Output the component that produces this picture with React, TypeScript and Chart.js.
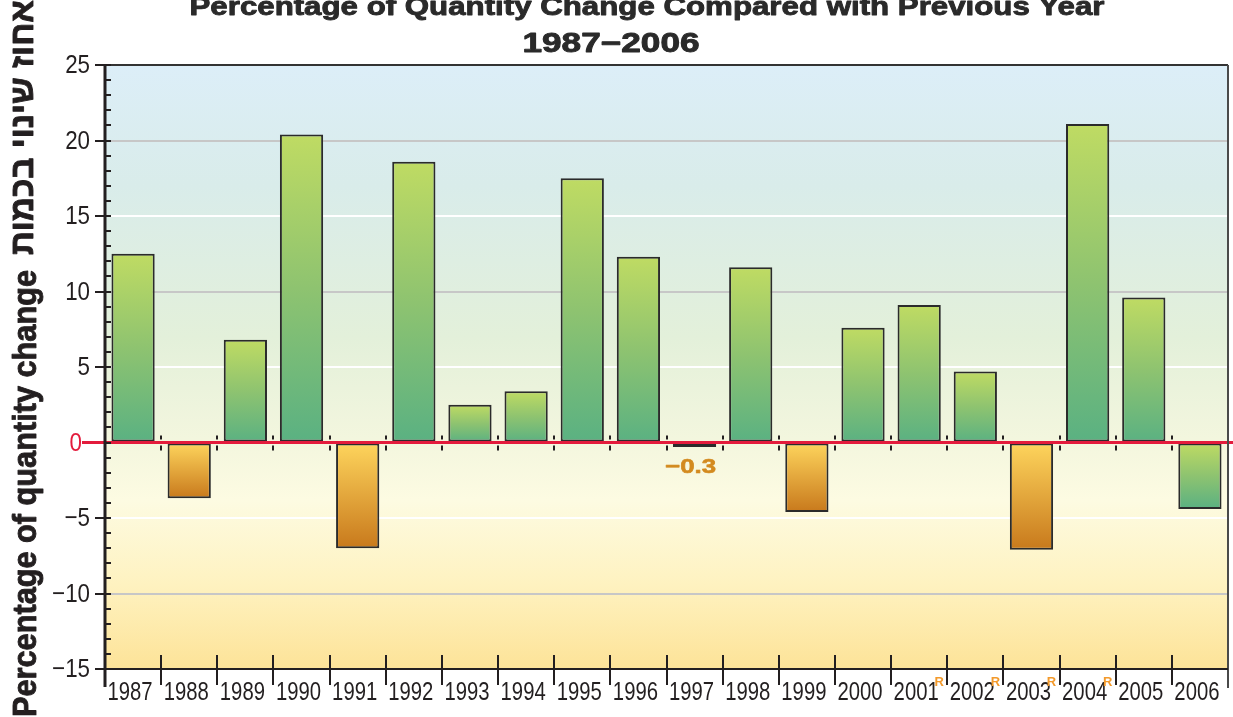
import React, { useEffect, useRef } from "react";
import { Chart, registerables } from "chart.js";

Chart.register(...registerables);

// ---------- data ----------
const years = [
  "1987", "1988", "1989", "1990", "1991", "1992", "1993", "1994", "1995", "1996",
  "1997", "1998", "1999", "2000", "2001", "2002", "2003", "2004", "2005", "2006",
];
const changePct = [
  12.5, -3.7, 6.8, 20.4, -7.0, 18.6, 2.5, 3.4, 17.5, 12.3,
  -0.3, 11.6, -4.6, 7.6, 9.1, 4.7, -7.1, 21.1, 9.6, -4.4,
];
const yTickValues = [25, 20, 15, 10, 5, 0, -5, -10, -15];
const yTickLabels = ["25", "20", "15", "10", "5", "0", "\u22125", "\u221210", "\u221215"];
const revisedYears = ["2001", "2002", "2003", "2004"];
const preliminaryYears = ["2006"];
const annotatedYears = ["1997"];
const titleLine1 = "Percentage of Quantity Change Compared with Previous Year";
const titleLine2 = "1987\u22122006";
const yTitleEn = "Percentage of quantity change";
const yTitleHe = "אחוז שינוי בכמות";

const fmt = (v: number) => (v < 0 ? "\u2212" + Math.abs(v).toFixed(1) : v.toFixed(1));

function drawStretched(
  ctx: CanvasRenderingContext2D,
  text: string,
  x: number,
  y: number,
  targetWidth: number,
  font: string,
  align: CanvasTextAlign,
  color: string,
  strokeW = 0
) {
  ctx.save();
  ctx.font = font;
  ctx.fillStyle = color;
  ctx.strokeStyle = color;
  ctx.textBaseline = "alphabetic";
  const w = ctx.measureText(text).width;
  const s = w > 0 ? targetWidth / w : 1;
  ctx.translate(x, y);
  ctx.scale(s, 1);
  ctx.textAlign = align;
  ctx.fillText(text, 0, 0);
  if (strokeW > 0) {
    ctx.lineWidth = strokeW;
    ctx.lineJoin = "round";
    ctx.strokeText(text, 0, 0);
  }
  ctx.restore();
}

function drawScaled(
  ctx: CanvasRenderingContext2D,
  text: string,
  x: number,
  y: number,
  sx: number,
  font: string,
  align: CanvasTextAlign,
  color: string,
  baseline: CanvasTextBaseline = "alphabetic"
) {
  ctx.save();
  ctx.font = font;
  ctx.fillStyle = color;
  ctx.textBaseline = baseline;
  ctx.textAlign = align;
  ctx.translate(x, y);
  ctx.scale(sx, 1);
  ctx.fillText(text, 0, 0);
  ctx.restore();
}

const INK = "#231f20";
const RED = "#e31b3c";
const ORANGE_TXT = "#d38a1f";

const decorPlugin = {
  id: "decor",
  beforeDraw(chart: any) {
    const { ctx, chartArea: a } = chart;
    ctx.save();
    const g = ctx.createLinearGradient(0, a.top, 0, a.bottom);
    g.addColorStop(0, "#dceef8");
    g.addColorStop(0.2, "#d9ecea");
    g.addColorStop(0.45, "#e3f0da");
    g.addColorStop(0.62, "#f3f6de");
    g.addColorStop(0.72, "#fdfbe2");
    g.addColorStop(0.86, "#fef2c0");
    g.addColorStop(1, "#fde398");
    ctx.fillStyle = g;
    ctx.fillRect(a.left, a.top, a.right - a.left, a.bottom - a.top);
    ctx.restore();
  },
  afterDatasetsDraw(chart: any) {
    const { ctx, chartArea: a } = chart;
    const xs = chart.scales.x;
    const ys = chart.scales.y;
    const y0 = ys.getPixelForValue(0);
    const n = years.length;
    const half = (xs.getPixelForValue(1) - xs.getPixelForValue(0)) / 2;

    ctx.save();
    // small ticks at zero line on category boundaries
    ctx.strokeStyle = INK;
    ctx.lineWidth = 2;
    for (let i = 1; i < n; i++) {
      const bx = Math.round(xs.getPixelForValue(i) - half);
      ctx.beginPath();
      ctx.moveTo(bx, y0 - 7);
      ctx.lineTo(bx, y0 - 3);
      ctx.moveTo(bx, y0 + 3);
      ctx.lineTo(bx, y0 + 8);
      ctx.stroke();
    }
    // zero line
    ctx.strokeStyle = RED;
    ctx.lineWidth = 3;
    ctx.beginPath();
    ctx.moveTo(82, y0);
    ctx.lineTo(chart.width, y0);
    ctx.stroke();

    // top border
    ctx.strokeStyle = "#333";
    ctx.lineWidth = 2;
    ctx.beginPath();
    ctx.moveTo(95, a.top);
    ctx.lineTo(a.right, a.top);
    ctx.stroke();
    // right border
    ctx.strokeStyle = "#4a4a4a";
    ctx.beginPath();
    ctx.moveTo(a.right, a.top);
    ctx.lineTo(a.right, a.bottom + 19);
    ctx.stroke();
    // bottom axis line
    ctx.strokeStyle = INK;
    ctx.beginPath();
    ctx.moveTo(a.left, a.bottom);
    ctx.lineTo(a.right, a.bottom);
    ctx.stroke();
    // x boundary ticks
    for (let i = 1; i < n; i++) {
      const bx = Math.round(xs.getPixelForValue(i) - half);
      ctx.beginPath();
      ctx.moveTo(bx, a.bottom - 14);
      ctx.lineTo(bx, a.bottom + 16);
      ctx.stroke();
    }
    // left axis line
    ctx.lineWidth = 3;
    ctx.beginPath();
    ctx.moveTo(a.left, a.top);
    ctx.lineTo(a.left, a.bottom + 18);
    ctx.stroke();
    // minor ticks
    ctx.lineWidth = 2;
    for (let v = ys.min; v <= ys.max; v++) {
      const py = Math.round(ys.getPixelForValue(v));
      ctx.beginPath();
      ctx.moveTo(a.left, py);
      ctx.lineTo(a.left + 6, py);
      ctx.stroke();
    }
    // major ticks + labels
    const tickFont = "26px 'Liberation Sans'";
    yTickValues.forEach((v, i) => {
      const py = Math.round(ys.getPixelForValue(v));
      if (v === 0) {
        drawScaled(ctx, yTickLabels[i], 82, py + 1, 0.86, tickFont, "right", RED, "middle");
        return;
      }
      ctx.strokeStyle = INK;
      ctx.lineWidth = 2;
      ctx.beginPath();
      ctx.moveTo(a.left - 10, py);
      ctx.lineTo(a.left + 6, py);
      ctx.stroke();
      drawScaled(ctx, yTickLabels[i], 90, py + 1, 0.86, tickFont, "right", INK, "middle");
    });

    // x labels
    years.forEach((yr, i) => {
      const cx = xs.getPixelForValue(i);
      drawScaled(ctx, yr, cx - 3, 700, 0.78, tickFont, "center", INK);
      if (revisedYears.includes(yr)) {
        drawScaled(ctx, "R", cx + half - 8, 686, 1, "bold 13px 'Liberation Sans'", "center", "#f39a2c");
      }
    });

    // value annotation
    years.forEach((yr, i) => {
      if (!annotatedYears.includes(yr)) return;
      const cx = xs.getPixelForValue(i);
      drawStretched(ctx, fmt(changePct[i]), cx - 4, 473, 51, "bold 20px 'Liberation Sans'", "center", ORANGE_TXT, 0.6);
    });

    // titles
    drawStretched(ctx, titleLine1, 647, 15, 915, "bold 26px 'Liberation Sans'", "center", "#2a2a2a", 0.9);
    drawStretched(ctx, titleLine2, 611, 52, 177, "bold 27px 'Liberation Sans'", "center", "#2a2a2a", 0.9);

    // y titles (rotated)
    ctx.save();
    ctx.translate(36, 717);
    ctx.rotate(-Math.PI / 2);
    drawStretched(ctx, yTitleEn, 0, 0, 447, "bold 33px 'Liberation Sans'", "left", INK, 0.9);
    ctx.restore();
    ctx.save();
    ctx.translate(33, 255);
    ctx.rotate(-Math.PI / 2);
    drawStretched(ctx, yTitleHe, 0, 0, 255, "bold 33px 'Liberation Sans'", "left", INK, 0.9);
    ctx.restore();

    ctx.restore();
  },
};

export default function App() {
  const ref = useRef<HTMLCanvasElement | null>(null);

  useEffect(() => {
    if (!ref.current) return;
    const chart = new Chart(ref.current, {
      type: "bar",
      data: {
        labels: years,
        datasets: [
          {
            data: changePct,
            borderColor: "#2b2b2b",
            borderWidth: 2,
            borderSkipped: false,
            barPercentage: 0.77,
            categoryPercentage: 1,
            backgroundColor: (c: any) => {
              const chart = c.chart;
              const ys = chart.scales?.y;
              const i = c.dataIndex;
              if (!ys || i === undefined) return "#8fc26f";
              const v = changePct[i];
              const p0 = ys.getPixelForValue(0);
              const p1 = ys.getPixelForValue(v);
              const orange = v < 0 && !preliminaryYears.includes(years[i]);
              if (!isFinite(p0) || !isFinite(p1)) return orange ? "#e6a83c" : "#8fc26f";
              const top = Math.min(p0, p1);
              const bot = Math.max(p0, p1) + 0.01;
              const g = chart.ctx.createLinearGradient(0, top, 0, bot);
              if (orange) {
                g.addColorStop(0, "#fed55d");
                g.addColorStop(1, "#c8791c");
              } else {
                g.addColorStop(0, "#bfdb63");
                g.addColorStop(0.5, "#8ec370");
                g.addColorStop(1, "#5ab182");
              }
              return g;
            },
          },
        ],
      },
      options: {
        responsive: false,
        animation: false,
        layout: { padding: { left: 105, right: 5, top: 65, bottom: 48 } },
        plugins: {
          legend: { display: false },
          tooltip: { enabled: false },
          title: { display: false },
        },
        scales: {
          x: {
            type: "category",
            offset: true,
            grid: { display: false, drawTicks: false },
            border: { display: false },
            ticks: { display: false },
            afterFit: (s: any) => {
              s.height = 0;
            },
          },
          y: {
            min: -15,
            max: 25,
            ticks: { display: false, stepSize: 5 },
            border: { display: false },
            grid: {
              drawTicks: false,
              lineWidth: 2,
              color: (c: any) => {
                const v = c.tick?.value;
                if (v === 20 || v === 10 || v === -10) return "#c7c7c7";
                if (v === 15 || v === 5 || v === -5) return "#ffffff";
                return "rgba(0,0,0,0)";
              },
            },
            afterFit: (s: any) => {
              s.width = 0;
            },
          },
        },
      },
      plugins: [decorPlugin],
    });
    return () => chart.destroy();
  }, []);

  return (
    <div style={{ position: "fixed", left: 0, top: 0, width: 1233, height: 717, background: "#fff" }}>
      <canvas ref={ref} width={1233} height={717} style={{ display: "block" }} />
    </div>
  );
}
